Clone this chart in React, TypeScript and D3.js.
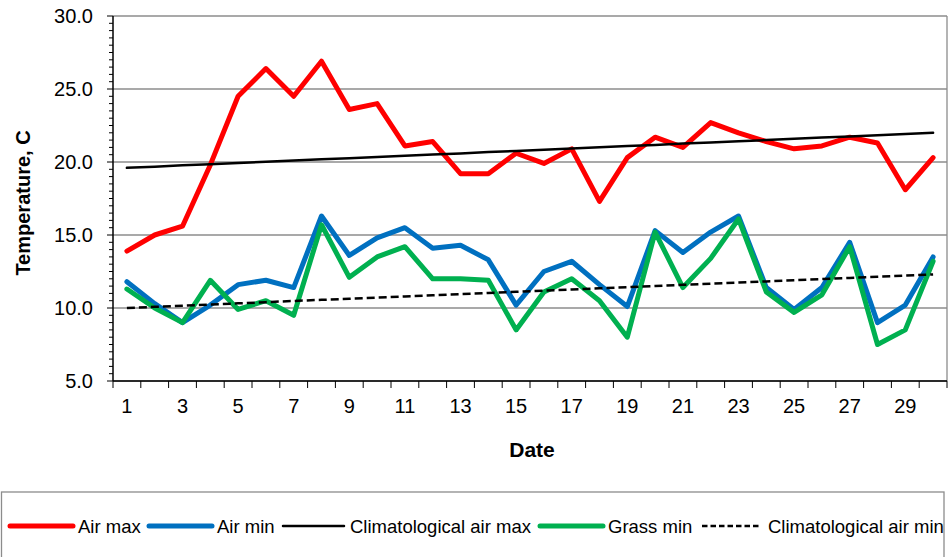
import React from "react";
import * as d3 from "d3";

// daily values, degrees C
const days = d3.range(1, 31);
const airMax = [13.9, 15.0, 15.6, 19.8, 24.5, 26.4, 24.5, 26.9, 23.6, 24.0, 21.1, 21.4, 19.2, 19.2, 20.6, 19.9, 20.9, 17.3, 20.3, 21.7, 21.0, 22.7, 22.0, 21.4, 20.9, 21.1, 21.7, 21.3, 18.1, 20.3];
const airMin = [11.8, 10.3, 9.0, 10.2, 11.6, 11.9, 11.4, 16.3, 13.6, 14.8, 15.5, 14.1, 14.3, 13.3, 10.2, 12.5, 13.2, 11.6, 10.1, 15.3, 13.8, 15.2, 16.3, 11.4, 9.9, 11.4, 14.5, 9.0, 10.2, 13.5];
const grassMin = [11.3, 10.0, 9.0, 11.9, 9.9, 10.5, 9.5, 15.7, 12.1, 13.5, 14.2, 12.0, 12.0, 11.9, 8.5, 11.1, 12.0, 10.5, 8.0, 15.2, 11.4, 13.4, 16.1, 11.1, 9.7, 10.9, 14.2, 7.5, 8.5, 13.2];
const climMax = [19.60, 19.68, 19.77, 19.85, 19.93, 20.01, 20.10, 20.18, 20.26, 20.34, 20.43, 20.51, 20.59, 20.68, 20.76, 20.84, 20.92, 21.01, 21.09, 21.17, 21.26, 21.34, 21.42, 21.50, 21.59, 21.67, 21.75, 21.83, 21.92, 22.00];
const climMin = [10.00, 10.08, 10.16, 10.24, 10.32, 10.40, 10.48, 10.56, 10.63, 10.71, 10.79, 10.87, 10.95, 11.03, 11.11, 11.19, 11.27, 11.35, 11.43, 11.51, 11.59, 11.67, 11.74, 11.82, 11.90, 11.98, 12.06, 12.14, 12.22, 12.30];
const yTicks = [5, 10, 15, 20, 25, 30];

const series = [
  { name: "Air max", values: airMax, color: "#ff0000", width: 5, dash: "" },
  { name: "Air min", values: airMin, color: "#0070c0", width: 5, dash: "" },
  { name: "Climatological air max", values: climMax, color: "#000000", width: 2.5, dash: "" },
  { name: "Grass min", values: grassMin, color: "#00b050", width: 5, dash: "" },
  { name: "Climatological air min", values: climMin, color: "#000000", width: 2.5, dash: "8,4" },
];

const W = 949;
const H = 557;
const left = 113;
const right = 947;
const top = 16;
const bottom = 381;
const font = "Arial, 'Liberation Sans', sans-serif";

export default function App() {
  const x = d3.scaleBand<number>().domain(days).range([left, right]);
  const y = d3.scaleLinear().domain([5, 30]).range([bottom, top]);
  const line = d3
    .line<number>()
    .x((_, i) => x(days[i])! + x.bandwidth() / 2)
    .y((d) => y(d));

  const minor = d3.range(5, 30.01, 0.5);
  const bounds = d3.range(0, 31).map((i) => left + i * x.step());

  // legend layout: sample line start/end and label start
  const legendItems = [
    { x1: 10, x2: 73, tx: 78 },
    { x1: 149, x2: 212, tx: 217 },
    { x1: 283, x2: 344, tx: 350 },
    { x1: 540, x2: 603, tx: 608 },
    { x1: 702, x2: 761, tx: 768 },
  ];
  const legendY = 526;

  return (
    <svg
      width={W}
      height={H}
      style={{ position: "absolute", left: 0, top: 0, background: "#fff" }}
      fontFamily={font}
    >
      {/* gridlines */}
      {yTicks.map((t) => (
        <line key={t} x1={left} x2={right} y1={y(t)} y2={y(t)} stroke="#8c8c8c" strokeWidth={1.3} />
      ))}
      <line x1={right} x2={right} y1={top} y2={bottom} stroke="#8c8c8c" strokeWidth={1.3} />

      {/* y axis */}
      <line x1={left} x2={left} y1={top} y2={bottom} stroke="#000" strokeWidth={1.5} />
      {minor.map((t) => (
        <line key={t} x1={left - (t % 5 === 0 ? 6 : 4)} x2={left} y1={y(t)} y2={y(t)} stroke="#000" strokeWidth={1} />
      ))}
      {yTicks.map((t) => (
        <text key={t} x={93} y={y(t)} dy="0.36em" textAnchor="end" fontSize={20}>
          {d3.format(".1f")(t)}
        </text>
      ))}

      {/* x axis */}
      <line x1={left} x2={right} y1={bottom} y2={bottom} stroke="#000" strokeWidth={1.5} />
      {bounds.map((b, i) => (
        <line key={i} x1={b} x2={b} y1={bottom} y2={bottom + 7} stroke="#000" strokeWidth={1} />
      ))}
      {days
        .filter((d) => d % 2 === 1)
        .map((d) => (
          <text key={d} x={x(d)! + x.bandwidth() / 2} y={413} textAnchor="middle" fontSize={20}>
            {d}
          </text>
        ))}

      {/* series */}
      {series.map((s) => (
        <path
          key={s.name}
          d={line(s.values) ?? ""}
          fill="none"
          stroke={s.color}
          strokeWidth={s.width}
          strokeDasharray={s.dash || undefined}
          strokeLinejoin="round"
          strokeLinecap={s.dash ? "butt" : "round"}
        />
      ))}

      {/* axis titles */}
      <text x={532} y={457} textAnchor="middle" fontSize={21} fontWeight="bold">
        Date
      </text>
      <text
        transform={`translate(30, 203) rotate(-90)`}
        textAnchor="middle"
        fontSize={20}
        fontWeight="bold"
      >
        Temperature, C
      </text>

      {/* legend */}
      <rect x={1.5} y={492} width={942.5} height={80} fill="#fff" stroke="#8c8c8c" strokeWidth={1.3} />
      {series.map((s, i) => (
        <g key={s.name}>
          <line
            x1={legendItems[i].x1}
            x2={legendItems[i].x2}
            y1={legendY}
            y2={legendY}
            stroke={s.color}
            strokeWidth={s.width}
            strokeDasharray={s.dash ? "5.5,3" : undefined}
            strokeLinecap={s.dash ? "butt" : "round"}
          />
          <text x={legendItems[i].tx} y={legendY} dy="0.36em" fontSize={18.5}>
            {s.name}
          </text>
        </g>
      ))}
    </svg>
  );
}
